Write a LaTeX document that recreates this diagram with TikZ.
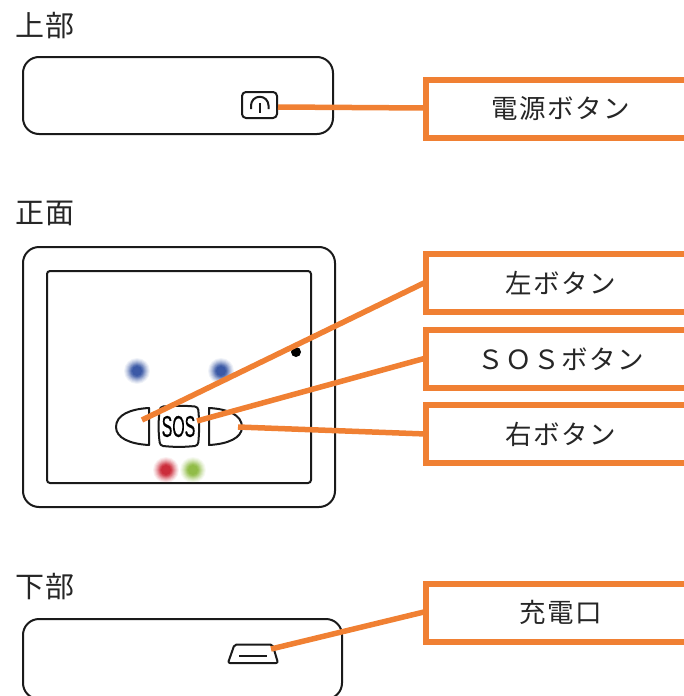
\documentclass[tikz,border=0pt]{standalone}
\usepackage{fontspec}
\newfontfamily\jp[LetterSpace=6]{Noto Sans CJK JP}
\newfontfamily\lat[FakeBold=0.6]{Liberation Sans}
\definecolor{orangeline}{HTML}{F08033}
\definecolor{inkline}{HTML}{1A1A1A}
\definecolor{ledblue}{HTML}{2F4FA0}
\definecolor{ledred}{HTML}{C8202F}
\definecolor{ledgreen}{HTML}{8AB83C}
\tikzset{
  x=1pt,y=-1pt,
  device/.style={draw=inkline,line width=2pt,rounded corners=16pt},
  icon/.style={draw=inkline,line width=2pt,line join=round},
  callout/.style={draw=orangeline,line width=6pt,outer sep=0pt,minimum width=269pt,minimum height=58pt,inner sep=0pt,anchor=west,font=\jp\fontsize{26.5}{30}\selectfont,text=black!85},
  lead/.style={draw=orangeline,line width=5.5pt},
  heading/.style={font=\jp\fontsize{29}{30}\selectfont,text=black!85,inner sep=0pt},
}
\newcommand{\ledglow}[2]{%
  \foreach \r/\o in {13/0.07,12/0.09,11/0.11,10/0.14,9/0.18,8/0.24,7/0.32,6/0.45,5/0.6}{
    \fill[#1,opacity=\o] (#2) circle[radius=\r pt];
  }
}
\newcommand{\lift}[1]{\raisebox{1.5pt}{#1}}
\begin{document}
\begin{tikzpicture}
\useasboundingbox (0,0) rectangle (684,696);
\clip (0,0) rectangle (684,696);
% headings
\node[heading] (htop) at (45,26) {上部};
\node[heading] (hfront) at (45,213) {正面};
\node[heading] (hbottom) at (45,587) {下部};
% top device
\draw[device] (23,57) rectangle (333,134);
\draw[icon,rounded corners=4pt] (242,92) rectangle (277,118);
\draw[icon] (251,109) -- (251,105.5) arc[start angle=180,end angle=0,radius=8.75pt] -- (268.5,109);
\draw[icon] (259.6,103) -- (259.6,113);
\coordinate (power) at (278,107);
% front device
\draw[device] (23,247) rectangle (335,507);
\draw[draw=inkline,line width=2pt,rounded corners=3pt] (47,271) rectangle (311,483);
\fill[black] (296,352) circle[radius=5pt];
\ledglow{ledblue}{137,371}
\ledglow{ledblue}{221,371}
\ledglow{ledred}{166,470}
\ledglow{ledgreen}{193,470}
% buttons
\draw[icon] (149,408) .. controls (130,409) and (116,415) .. (116,427) .. controls (116,438) and (130,444) .. (149,445) -- cycle;
\draw[icon] (209,408) .. controls (228,409) and (242,415) .. (242,427) .. controls (242,438) and (228,444) .. (209,445) -- cycle;
\draw[icon] (163,406.5) .. controls (175,405.5) and (183,405.5) .. (195,406.5) .. controls (197,407) and (198,408) .. (198.3,410) .. controls (199.4,421) and (199.4,432) .. (198.3,442.5) .. controls (198,444.5) and (197,445.5) .. (195,446) .. controls (183,447.2) and (175,447.2) .. (163,446) .. controls (161,445.5) and (160,444.5) .. (159.7,442.5) .. controls (158.2,432) and (158.2,421) .. (159.7,410) .. controls (160,408) and (161,407) .. (163,406.5) -- cycle;
\node[inner sep=0pt,xscale=0.53,transform shape,font=\lat\fontsize{30}{30}\selectfont,text=black] (sos) at (178.5,426.5) {SOS};
\coordinate (lbtn) at (142,420);
\coordinate (sbtn) at (197,421);
\coordinate (rbtn) at (238,427);
% bottom device
\draw[device] (23,619) rectangle (342,699);
\draw[icon,rounded corners=2pt] (234.5,644.5) -- (272.5,644.5) -- (278,663) -- (228,663) -- cycle;
\draw[icon] (239,656) -- (267,656);
\coordinate (usb) at (271,649);
% callouts
\node[callout] (c1) at (426,109) {\lift{電源ボタン}};
\node[callout] (c2) at (426,283) {\lift{左ボタン}};
\node[callout] (c3) at (426,359) {\lift{ＳＯＳボタン}};
\node[callout] (c4) at (426,434) {\lift{右ボタン}};
\node[callout] (c5) at (426,612.5) {\lift{充電口}};
% leaders
\draw[lead] (power) -- ([yshift=1pt]c1.west);
\draw[lead] (lbtn) -- ([yshift=1pt]c2.west);
\draw[lead] (sbtn) -- ([yshift=1pt]c3.west);
\draw[lead] (rbtn) -- (c4.west);
\draw[lead] (usb) -- ([yshift=1pt]c5.west);
\end{tikzpicture}
\end{document}
